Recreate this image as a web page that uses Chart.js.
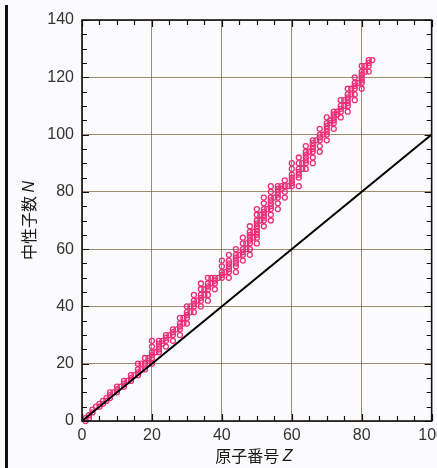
<!DOCTYPE html>
<html>
<head>
<meta charset="utf-8">
<script src="https://cdn.jsdelivr.net/npm/chart.js@4"></script>
<style>
    html, body { margin: 0; padding: 0; overflow: hidden; background: #fbfbfd; }
    #wrap { position: relative; width: 437px; height: 468px; overflow: hidden; }
    #edge { position: absolute; left: 5px; top: 5px; bottom: 0; width: 3px; background: #111; }
    canvas { position: absolute; left: 0; top: 0; }
</style>
</head>
<body>
<div id="wrap">
    <canvas id="chartNuclides" width="450" height="468"></canvas>
    <div id="edge"></div>
</div>
<script>
// Stable nuclides: atomic number Z and the neutron numbers N found for it
const atomicNumbers = [
    1, 2, 3, 4, 5, 6, 7, 8, 9, 10, 11, 12, 13, 14, 15, 16, 17, 18, 19, 20,
    21, 22, 23, 24, 25, 26, 27, 28, 29, 30, 31, 32, 33, 34, 35, 36, 37, 38, 39, 40,
    41, 42, 44, 45, 46, 47, 48, 49, 50, 51, 52, 53, 54, 55, 56, 57, 58, 59, 60,
    62, 63, 64, 65, 66, 67, 68, 69, 70, 71, 72, 73, 74, 75, 76, 77, 78, 79, 80,
    81, 82, 83
];
const neutronNumbers = [
    [0, 1], [1, 2], [3, 4], [5], [5, 6], [6, 7], [7, 8], [8, 9, 10], [10], [10, 11, 12],
    [12], [12, 13, 14], [14], [14, 15, 16], [16], [16, 17, 18, 20], [18, 20], [18, 20, 22],
    [20, 21, 22], [20, 22, 23, 24, 26, 28],
    [24], [24, 25, 26, 27, 28], [27, 28], [26, 28, 29, 30], [30], [28, 30, 31, 32], [32],
    [30, 32, 33, 34, 36], [34, 36], [34, 36, 37, 38, 40], [38, 40], [38, 40, 41, 42, 44],
    [42], [40, 42, 43, 44, 46, 48], [44, 46], [42, 44, 46, 47, 48, 50], [48, 50],
    [46, 48, 49, 50], [50], [50, 51, 52, 54, 56],
    [52], [50, 52, 53, 54, 55, 56, 58], [52, 54, 55, 56, 57, 58, 60], [58],
    [56, 58, 59, 60, 62, 64], [60, 62], [58, 60, 62, 63, 64, 65, 66, 68], [64, 66],
    [62, 64, 65, 66, 67, 68, 69, 70, 72, 74], [70, 72], [68, 70, 71, 72, 73, 74, 76, 78],
    [74], [70, 72, 74, 75, 76, 77, 78, 80, 82], [78], [74, 76, 78, 79, 80, 81, 82],
    [81, 82], [78, 80, 82, 84], [82], [82, 83, 84, 85, 86, 88, 90],
    [82, 85, 86, 87, 88, 90, 92], [88, 90], [88, 90, 91, 92, 93, 94, 96], [94],
    [90, 92, 94, 95, 96, 97, 98], [98], [94, 96, 98, 99, 100, 102], [100],
    [98, 100, 101, 102, 103, 104, 106], [104, 105], [102, 104, 105, 106, 107, 108],
    [107, 108], [106, 108, 109, 110, 112], [110, 112], [108, 110, 111, 112, 113, 114, 116],
    [114, 116], [112, 114, 116, 117, 118, 120], [118], [116, 118, 119, 120, 121, 122, 124],
    [122, 124], [122, 124, 125, 126], [126]
];

// N = Z reference line
const lineZ = [0, 100];
const lineN = [0, 100];

const xTicks = [0, 20, 40, 60, 80, 100];
const yTicks = [0, 20, 40, 60, 80, 100, 120, 140];

const xTitle = ['原子番号 ', 'Z'];
const yTitle = ['中性子数 ', 'N'];

const PINK = '#ea2f78';
const CJK_FONT = '16px "Noto Sans CJK JP", sans-serif';
const ITALIC_FONT = 'italic 16px "Liberation Sans", sans-serif';

const nuclidePoints = [];
atomicNumbers.forEach((z, i) => {
    neutronNumbers[i].forEach(n => nuclidePoints.push({ x: z, y: n }));
});
const linePoints = lineZ.map((z, i) => ({ x: z, y: lineN[i] }));

// draw "text + italic symbol" centred at 0,0 of the current transform
function drawTitle(ctx, parts) {
    ctx.font = CJK_FONT;
    const w1 = ctx.measureText(parts[0]).width;
    ctx.font = ITALIC_FONT;
    const w2 = ctx.measureText(parts[1]).width;
    const start = -(w1 + w2) / 2;
    ctx.textBaseline = 'middle';
    ctx.textAlign = 'left';
    ctx.fillStyle = '#1a1a1a';
    ctx.font = CJK_FONT;
    ctx.fillText(parts[0], start, 0);
    ctx.font = ITALIC_FONT;
    ctx.fillText(parts[1], start + w1, 1);
}

// frame, inward ticks on all sides and axis titles
const frameTicks = {
    id: 'frameTicks',
    afterDraw(chart) {
        const { ctx, chartArea: a, scales } = chart;
        const xs = scales.x, ys = scales.y;
        ctx.save();
        ctx.strokeStyle = '#111';
        ctx.lineWidth = 1.2;
        ctx.beginPath();
        for (let v = 0; v <= 100; v += 5) {
            const px = Math.round(xs.getPixelForValue(v)) + 0.5;
            const len = v % 20 === 0 ? 7 : 5;
            ctx.moveTo(px, a.bottom); ctx.lineTo(px, a.bottom - len);
            ctx.moveTo(px, a.top); ctx.lineTo(px, a.top + len);
        }
        for (let v = 0; v <= 140; v += 5) {
            const py = Math.round(ys.getPixelForValue(v)) + 0.5;
            const len = v % 20 === 0 ? 7 : 5;
            ctx.moveTo(a.left, py); ctx.lineTo(a.left + len, py);
            ctx.moveTo(a.right, py); ctx.lineTo(a.right - len, py);
        }
        ctx.stroke();

        ctx.lineWidth = 1.6;
        ctx.strokeRect(a.left, a.top, a.right - a.left, a.bottom - a.top);

        ctx.save();
        ctx.translate((a.left + a.right) / 2 - 3, 456);
        drawTitle(ctx, xTitle);
        ctx.restore();

        ctx.save();
        ctx.translate(29, (a.top + a.bottom) / 2);
        ctx.rotate(-Math.PI / 2);
        drawTitle(ctx, yTitle);
        ctx.restore();
        ctx.restore();
    }
};

const gridStyle = {
    color: 'rgba(135, 110, 75, 0.8)',
    lineWidth: 1,
    drawTicks: false
};

new Chart(document.getElementById('chartNuclides'), {
    type: 'scatter',
    data: {
        datasets: [
            {
                type: 'line',
                data: linePoints,
                borderColor: '#000',
                borderWidth: 2,
                pointRadius: 0,
                order: 0
            },
            {
                data: nuclidePoints,
                pointStyle: 'circle',
                pointRadius: 2.5,
                borderWidth: 1.3,
                borderColor: PINK,
                backgroundColor: 'rgba(0,0,0,0)',
                clip: false,
                order: 1
            }
        ]
    },
    plugins: [frameTicks],
    options: {
        responsive: false,
        animation: false,
        events: [],
        layout: { padding: { left: 0, top: 20, right: 17, bottom: 0 } },
        plugins: {
            legend: { display: false },
            tooltip: { enabled: false }
        },
        scales: {
            x: {
                type: 'linear',
                min: 0,
                max: 100,
                afterBuildTicks: s => { s.ticks = xTicks.map(v => ({ value: v })); },
                afterFit: s => { s.height = 47; },
                grid: gridStyle,
                border: { display: false },
                ticks: { padding: 5, color: '#333', font: { family: '"Liberation Sans Narrow", "Liberation Sans", sans-serif', size: 16 }, maxRotation: 0 }
            },
            y: {
                type: 'linear',
                min: 0,
                max: 140,
                afterBuildTicks: s => { s.ticks = yTicks.map(v => ({ value: v })); },
                afterFit: s => { s.width = 82; },
                grid: gridStyle,
                border: { display: false },
                ticks: { padding: 8, color: '#333', font: { family: '"Liberation Sans Narrow", "Liberation Sans", sans-serif', size: 16 } }
            }
        }
    }
});
</script>
</body>
</html>
